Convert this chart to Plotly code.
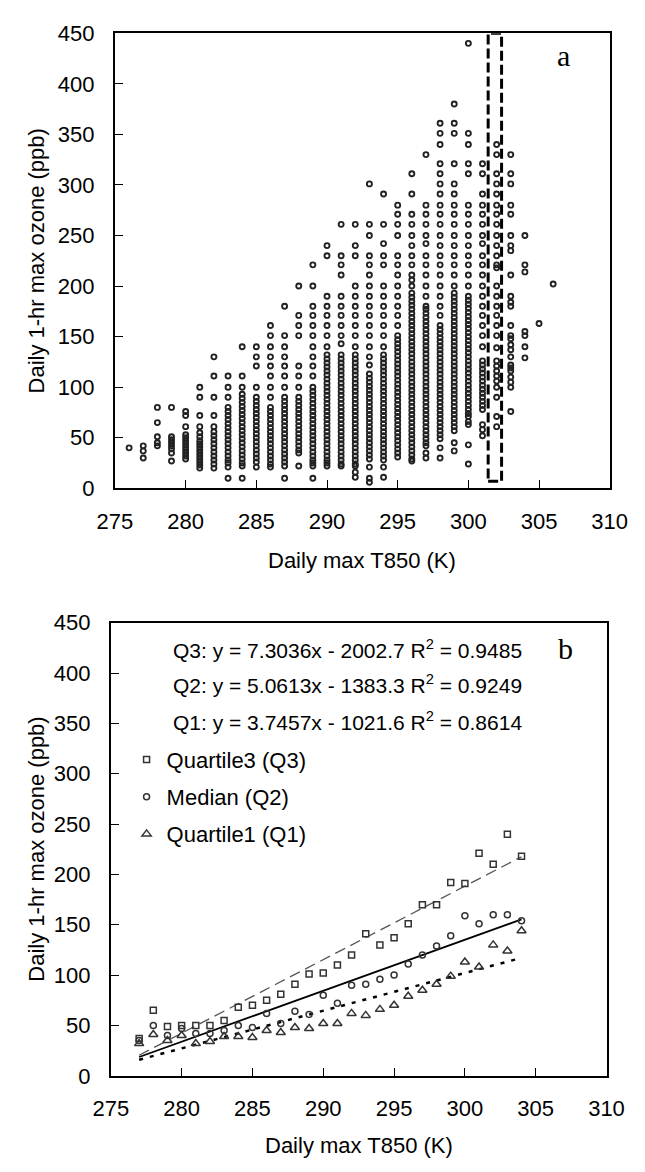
import plotly.graph_objects as go

# ---------------- Panel (a): daily 1-hr max ozone by daily max T850 (K) ----------------
o3_276 = [40]
o3_277 = [42, 37, 30]
o3_278 = [80, 65, 51, 45, 42]
o3_279 = [80, 51, 48, 45, 42, 39, 35, 27]
o3_280 = [76, 72, 61, 53, 50, 47, 44, 41, 38, 35, 32, 29]
o3_281 = [100, 90, 72, 61, 55, 51, 47, 44, 41, 38, 35, 32, 29, 26, 23, 20]
o3_282 = [130, 111, 90, 72, 61, 56, 52, 48, 44, 40, 36, 32, 28, 24, 20]
o3_283 = [111, 100, 90, 80, 76, 72, 68, 64, 60, 56, 52, 48, 44, 40, 36, 32, 28, 25, 21, 10]
o3_284 = [140, 111, 100, 93, 89, 85, 81, 77, 73, 69, 65, 61, 57, 53, 49, 45, 41, 37, 33, 29, 25, 22, 10]
o3_285 = [140, 130, 121, 100, 90, 86, 82, 78, 74, 70, 66, 62, 58, 54, 50, 46, 42, 38, 34, 30, 26, 21]
o3_286 = [161, 151, 140, 130, 121, 111, 100, 90, 80, 76, 72, 68, 64, 60, 56, 52, 48, 44, 40, 36, 32, 28, 24, 21]
o3_287 = [180, 151, 140, 130, 121, 111, 100, 90, 86, 82, 78, 74, 70, 66, 62, 58, 54, 50, 46, 42, 38, 34, 30, 26, 22, 10]
o3_288 = [200, 171, 161, 151, 121, 111, 100, 90, 86, 82, 78, 74, 70, 66, 62, 58, 54, 50, 46, 42, 38, 35, 22]
o3_289 = [221, 200, 180, 171, 161, 151, 140, 130, 121, 111, 100, 96, 92, 88, 84, 80, 76, 72, 68, 64,
          60, 56, 52, 48, 44, 40, 36, 32, 28, 25, 22, 10]
o3_290 = [240, 230, 190, 180, 171, 161, 151, 140, 132, 128, 124, 120, 116, 112, 108, 104, 100, 96, 92, 88,
          84, 80, 76, 72, 68, 64, 60, 56, 52, 48, 44, 40, 36, 32, 28, 25, 22]
o3_291 = [261, 230, 221, 211, 190, 180, 171, 161, 151, 143, 132, 128, 124, 120, 116, 112, 108, 104, 100, 96,
          92, 88, 84, 80, 76, 72, 68, 64, 60, 56, 52, 48, 44, 40, 36, 32, 28, 24, 22]
o3_292 = [261, 240, 230, 200, 190, 180, 171, 161, 151, 140, 132, 128, 124, 120, 116, 112, 108, 104, 100, 96,
          92, 88, 84, 80, 76, 72, 68, 64, 60, 56, 52, 48, 44, 40, 36, 32, 28, 24, 22, 16, 11]
o3_293 = [301, 261, 250, 230, 221, 211, 200, 190, 180, 171, 161, 151, 140, 130, 122, 113, 109, 105, 101, 97,
          93, 89, 85, 81, 77, 73, 69, 65, 61, 57, 53, 49, 45, 41, 37, 33, 29, 21, 10, 6]
o3_294 = [291, 261, 242, 230, 221, 200, 190, 180, 171, 161, 151, 140, 132, 128, 124, 120, 116, 112, 108, 104,
          100, 96, 92, 88, 84, 80, 76, 72, 68, 64, 60, 56, 52, 48, 44, 40, 36, 32, 28, 21, 11]
o3_295 = [280, 271, 261, 250, 230, 221, 211, 200, 190, 180, 171, 161, 151, 147, 143, 139, 135, 131, 127, 123,
          119, 115, 111, 107, 103, 99, 95, 91, 87, 83, 79, 75, 71, 67, 63, 59, 55, 51, 47, 43, 39, 35, 31]
o3_296 = [311, 291, 271, 261, 250, 240, 230, 221, 211, 206, 200, 193, 189, 185, 181, 177, 173, 169, 165, 161,
          157, 153, 149, 145, 141, 137, 133, 129, 125, 121, 117, 113, 109, 105, 101, 97, 93, 89, 85, 81,
          77, 73, 69, 65, 61, 57, 53, 49, 45, 41, 37, 33, 29, 27]
o3_297 = [330, 280, 271, 261, 250, 242, 230, 221, 211, 200, 190, 180, 177, 173, 169, 165, 161, 157, 153, 149,
          145, 141, 137, 133, 129, 125, 121, 117, 113, 109, 105, 101, 97, 93, 89, 85, 81, 77, 73, 69,
          65, 61, 57, 53, 49, 45, 42, 35, 30]
o3_298 = [361, 351, 340, 321, 311, 301, 291, 280, 271, 261, 250, 240, 230, 221, 211, 200, 190, 180, 171, 161,
          157, 153, 149, 145, 141, 137, 133, 129, 125, 121, 117, 113, 109, 105, 101, 97, 93, 89, 85, 81,
          77, 73, 69, 65, 61, 57, 53, 49, 40, 30]
o3_299 = [380, 361, 351, 321, 301, 291, 280, 271, 261, 250, 240, 230, 221, 211, 200, 193, 189, 185, 181, 177,
          173, 169, 165, 161, 157, 153, 149, 145, 141, 137, 133, 129, 125, 121, 117, 113, 109, 105, 101, 97,
          93, 89, 85, 81, 77, 73, 69, 65, 61, 57, 45, 37]
o3_300 = [440, 351, 340, 321, 311, 280, 271, 261, 250, 240, 230, 221, 211, 200, 190, 186, 182, 178, 174, 170,
          166, 162, 158, 154, 150, 146, 142, 138, 134, 130, 126, 122, 118, 114, 110, 106, 102, 98, 94, 90,
          86, 82, 78, 74, 71, 66, 63, 43, 24]
o3_301 = [321, 311, 291, 280, 271, 261, 250, 242, 230, 221, 211, 200, 190, 180, 171, 161, 151, 140, 126, 122,
          118, 114, 110, 106, 102, 98, 94, 90, 86, 82, 78, 63, 58, 52]
o3_302 = [340, 330, 311, 301, 291, 280, 271, 261, 250, 240, 230, 221, 218, 200, 190, 180, 171, 161, 151, 139,
          126, 121, 116, 111, 106, 100, 90, 71, 61]
o3_303 = [330, 311, 301, 280, 271, 250, 240, 235, 211, 190, 184, 180, 161, 151, 148, 142, 137, 130, 122, 119,
          116, 110, 105, 100, 76]
o3_304 = [250, 221, 214, 155, 151, 140, 129]
o3_305 = [163]
o3_306 = [202]

columns_a = [
    (276, o3_276), (277, o3_277), (278, o3_278), (279, o3_279), (280, o3_280), (281, o3_281),
    (282, o3_282), (283, o3_283), (284, o3_284), (285, o3_285), (286, o3_286), (287, o3_287),
    (288, o3_288), (289, o3_289), (290, o3_290), (291, o3_291), (292, o3_292), (293, o3_293),
    (294, o3_294), (295, o3_295), (296, o3_296), (297, o3_297), (298, o3_298), (299, o3_299),
    (300, o3_300), (301, o3_301), (302, o3_302), (303, o3_303), (304, o3_304), (305, o3_305),
    (306, o3_306),
]

# highlighted T850 bin (dashed box)
box_t850 = [301.4, 302.35]
box_o3 = [7, 450]

# ---------------- Panel (b): quartiles of ozone per T850 bin ----------------
t850_b = [277, 278, 279, 280, 281, 282, 283, 284, 285, 286, 287, 288, 289, 290,
          291, 292, 293, 294, 295, 296, 297, 298, 299, 300, 301, 302, 303, 304]
q3_b = [37, 65, 49, 50, 50, 50, 55, 68, 70, 75, 81, 91, 101, 102,
        110, 120, 141, 130, 137, 151, 170, 170, 192, 191, 221, 210, 240, 218]
q2_b = [35, 50, 40, 47, 42, 42, 45, 50, 48, 62, 52, 64, 61, 80,
        72, 90, 91, 96, 100, 111, 120, 129, 139, 159, 151, 160, 160, 154]
q1_b = [32, 41, 35, 40, 32, 34, 39, 39, 38, 45, 43, 48, 47, 52,
        52, 62, 60, 66, 70, 79, 85, 91, 99, 113, 108, 130, 124, 144]

# linear fits: (label, slope, intercept, R^2)
fit_q3 = ("Q3", 7.3036, -2002.7, 0.9485)
fit_q2 = ("Q2", 5.0613, -1383.3, 0.9249)
fit_q1 = ("Q1", 3.7457, -1021.6, 0.8614)
fit_span = [277, 304]

x_ticks = [275, 280, 285, 290, 295, 300, 305, 310]
y_ticks = [0, 50, 100, 150, 200, 250, 300, 350, 400, 450]

# ---------------- figure ----------------
W, H = 645, 1172
FONT = "Liberation Sans, Arial, sans-serif"
SERIF = "Liberation Serif, Times New Roman, serif"
TXT = 22


def px_x(p):
    return p / W


def px_y(p):
    return 1 - p / H


fig = go.Figure()

xa, ya = [], []
for t, vals in columns_a:
    xa += [t] * len(vals)
    ya += vals

dot_color = "#222222"
fig.add_trace(go.Scatter(
    x=xa, y=ya, mode="markers", xaxis="x", yaxis="y", showlegend=False,
    marker=dict(symbol="circle-open", size=5, color=dot_color, line=dict(width=1.9, color=dot_color)),
))

fig.add_shape(type="rect", xref="x", yref="y",
              x0=box_t850[0], x1=box_t850[1], y0=box_o3[0], y1=box_o3[1],
              line=dict(color="black", width=3, dash="10px,4px"))

# panel (b) regression lines
line_styles = {
    "Q3": dict(color="#555555", width=1.3, dash="11px,6px"),
    "Q2": dict(color="black", width=1.8),
    "Q1": dict(color="black", width=2.5, dash="4px,7px"),
}
for name, slope, icpt, r2 in (fit_q3, fit_q2, fit_q1):
    fig.add_trace(go.Scatter(
        x=fit_span, y=[slope * t + icpt for t in fit_span], mode="lines",
        xaxis="x2", yaxis="y2", showlegend=False, line=line_styles[name],
    ))

mk_color = "#333333"
fig.add_trace(go.Scatter(
    x=t850_b, y=q3_b, mode="markers", name="Quartile3 (Q3)", xaxis="x2", yaxis="y2", legend="legend",
    marker=dict(symbol="square-open", size=6, color=mk_color, line=dict(width=1.5, color=mk_color)),
))
fig.add_trace(go.Scatter(
    x=t850_b, y=q2_b, mode="markers", name="Median (Q2)", xaxis="x2", yaxis="y2", legend="legend2",
    marker=dict(symbol="circle-open", size=6, color=mk_color, line=dict(width=1.5, color=mk_color)),
))
fig.add_trace(go.Scatter(
    x=t850_b, y=q1_b, mode="markers", name="Quartile1 (Q1)", xaxis="x2", yaxis="y2", legend="legend3",
    marker=dict(symbol="triangle-up-open", size=8, color=mk_color, line=dict(width=1.5, color=mk_color)),
))

axis_common = dict(
    showline=True, linewidth=2, linecolor="black", mirror=True,
    ticks="inside", ticklen=8, tickwidth=1, tickcolor="black",
    showgrid=False, zeroline=False,
    tickfont=dict(family=FONT, size=TXT, color="black"),
)

fig.update_layout(
    width=W, height=H,
    margin=dict(l=0, r=0, t=0, b=0),
    paper_bgcolor="white", plot_bgcolor="white",
    font=dict(family=FONT, size=TXT, color="black"),
    xaxis=dict(axis_common, domain=[px_x(102.7), px_x(626.7)], range=[275, 310],
               tickvals=x_ticks, anchor="y", ticklabelstandoff=12),
    yaxis=dict(axis_common, domain=[px_y(486.7), px_y(21.7)], range=[0, 450],
               tickvals=y_ticks, anchor="x", ticklabelstandoff=14),
    xaxis2=dict(axis_common, domain=[px_x(98.3), px_x(623.3)], range=[275, 310],
                tickvals=x_ticks, anchor="y2", ticklabelstandoff=12),
    yaxis2=dict(axis_common, domain=[px_y(1087), px_y(624)], range=[0, 450],
                tickvals=y_ticks, anchor="x2", ticklabelstandoff=14),
)

legend_common = dict(xanchor="left", yanchor="middle", bgcolor="rgba(0,0,0,0)",
                     borderwidth=0, font=dict(family=FONT, size=TXT, color="black"))
fig.update_layout(
    legend=dict(legend_common, x=px_x(115), y=px_y(764)),
    legend2=dict(legend_common, x=px_x(115), y=px_y(802)),
    legend3=dict(legend_common, x=px_x(115), y=px_y(840)),
)

annotations = []
# axis titles
for cx, cy in ((364.7, 560), (360.8, 1158)):
    annotations.append(dict(text="Daily max T850 (K)", x=px_x(cx), y=px_y(cy), xref="paper", yref="paper",
                            showarrow=False, xanchor="center", yanchor="middle",
                            font=dict(family=FONT, size=TXT, color="black")))
for cx, cy in ((20, 254), (20, 855)):
    annotations.append(dict(text="Daily 1-hr max ozone (ppb)", x=px_x(cx), y=px_y(cy), xref="paper",
                            yref="paper", showarrow=False, textangle=-90, xanchor="center", yanchor="middle",
                            font=dict(family=FONT, size=TXT, color="black")))
# regression equations
for (name, slope, icpt, r2), cy in zip((fit_q3, fit_q2, fit_q1), (651, 687, 724)):
    sign = "-" if icpt < 0 else "+"
    annotations.append(dict(
        text=f"{name}: y = {slope}x {sign} {abs(icpt)} R<sup>2</sup> = {r2}",
        x=px_x(162), y=px_y(cy), xref="paper", yref="paper", showarrow=False,
        xanchor="left", yanchor="middle", font=dict(family=FONT, size=21, color="black")))
# panel letters
for letter, cx, cy in (("a", 578, 44), ("b", 580, 650)):
    annotations.append(dict(text=letter, x=px_x(cx), y=px_y(cy), xref="paper", yref="paper",
                            showarrow=False, xanchor="center", yanchor="middle",
                            font=dict(family=SERIF, size=30, color="black")))
fig.update_layout(annotations=annotations)

fig.write_html("out.html")
